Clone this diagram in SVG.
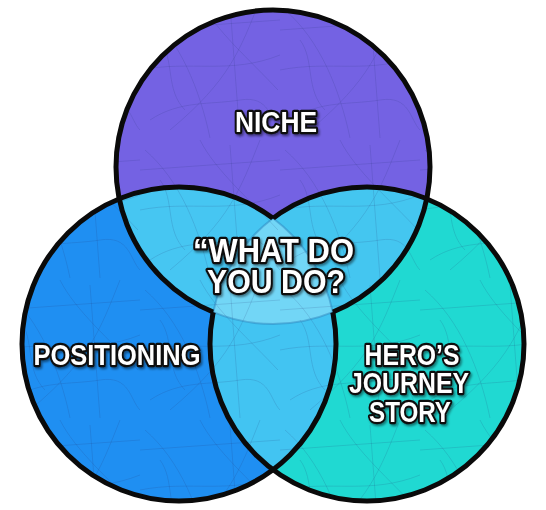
<svg xmlns="http://www.w3.org/2000/svg" width="546" height="510" viewBox="0 0 546 510">
  <style>
    .lbl { font-family: "Liberation Sans", Arial, sans-serif; font-weight: bold; fill: #ffffff; stroke: #111111; stroke-width: 4.5; stroke-linejoin: round; paint-order: stroke; text-anchor: middle; filter: url(#shadow); }
    .border { fill: none; stroke: #0a0a0a; stroke-width: 5; }
    .faint { fill: none; stroke: #2a7fb8; stroke-opacity: 0.45; stroke-width: 2; }
    .tex { fill: none; stroke: #1a2a6a; stroke-opacity: 0.16; stroke-width: 0.9; }
  </style>
  <defs>
    <clipPath id="cT"><circle cx="273" cy="167" r="157"/></clipPath>
    <clipPath id="cL"><circle cx="179" cy="344" r="157"/></clipPath>
    <clipPath id="cR"><circle cx="367" cy="344" r="157"/></clipPath>
    <clipPath id="cU">
      <circle cx="273" cy="167" r="157"/>
      <circle cx="179" cy="344" r="157"/>
      <circle cx="367" cy="344" r="157"/>
    </clipPath>
    <pattern id="scratch" width="140" height="140" patternUnits="userSpaceOnUse">
      <path class="tex" d="M5,10 C40,40 60,90 70,138"/>
      <path class="tex" d="M120,0 C100,50 90,80 30,130"/>
      <path class="tex" d="M0,70 C50,60 90,75 140,55"/>
      <path class="tex" d="M60,0 C75,30 110,60 138,90"/>
      <path class="tex" d="M10,120 C40,100 70,105 100,100 S130,120 140,130"/>
      <path class="tex" d="M90,5 L100,138"/>
      <path class="tex" d="M20,40 C35,60 25,90 45,110"/>
      <path class="tex" d="M0,30 L140,20"/>
    </pattern>
    <mask id="mT" maskUnits="userSpaceOnUse" x="0" y="0" width="546" height="510">
      <rect x="0" y="0" width="546" height="510" fill="#fff"/>
      <circle cx="367" cy="344" r="157" fill="#000" clip-path="url(#cL)"/>
    </mask>
    <mask id="mL" maskUnits="userSpaceOnUse" x="0" y="0" width="546" height="510">
      <rect x="0" y="0" width="546" height="510" fill="#fff"/>
      <circle cx="367" cy="344" r="157" fill="#000" clip-path="url(#cT)"/>
    </mask>
    <mask id="mR" maskUnits="userSpaceOnUse" x="0" y="0" width="546" height="510">
      <rect x="0" y="0" width="546" height="510" fill="#fff"/>
      <circle cx="179" cy="344" r="157" fill="#000" clip-path="url(#cT)"/>
    </mask>
    <filter id="shadow" x="-20%" y="-30%" width="140%" height="170%">
      <feDropShadow dx="1.5" dy="2" stdDeviation="1.2" flood-color="#000" flood-opacity="0.45"/>
    </filter>
  </defs>
  <rect width="546" height="510" fill="#ffffff"/>

  <g id="regions">
    <circle cx="273" cy="167" r="157" fill="#7462e3"/>
    <circle cx="179" cy="344" r="157" fill="#1f8ff2"/>
    <circle cx="367" cy="344" r="157" fill="#20d9d2"/>
    <circle cx="273" cy="167" r="157" fill="#46c6f2" clip-path="url(#cL)"/>
    <circle cx="273" cy="167" r="157" fill="#44c6f0" clip-path="url(#cR)"/>
    <circle cx="179" cy="344" r="157" fill="#42c4f2" clip-path="url(#cR)"/>
    <path d="M273,218.3 A157,157 0 0 0 213.2,312.2 A157,157 0 0 0 332.8,312.2 A157,157 0 0 0 273,218.3 Z" fill="#72d6f6"/>
    <rect x="0" y="0" width="546" height="510" fill="url(#scratch)" clip-path="url(#cU)"/>
    <path class="faint" d="M273,218.3 A157,157 0 0 0 213.2,312.2 A157,157 0 0 0 332.8,312.2 A157,157 0 0 0 273,218.3 Z"/>
    <circle class="border" cx="273" cy="167" r="157" mask="url(#mT)"/>
    <circle class="border" cx="179" cy="344" r="157" mask="url(#mL)"/>
    <circle class="border" cx="367" cy="344" r="157" mask="url(#mR)"/>
  </g>

  <g id="connectors"></g>

  <g id="niche">
    <text class="lbl" x="276" y="132" font-size="29" textLength="82" lengthAdjust="spacingAndGlyphs">NICHE</text>
  </g>
  <g id="what-do-you-do">
    <text class="lbl" x="273.5" y="262" font-size="33" textLength="161" lengthAdjust="spacingAndGlyphs">“WHAT DO</text>
    <text class="lbl" x="276" y="293" font-size="33" textLength="138" lengthAdjust="spacingAndGlyphs">YOU DO?</text>
  </g>
  <g id="positioning">
    <text class="lbl" x="117" y="365" font-size="30" textLength="167" lengthAdjust="spacingAndGlyphs">POSITIONING</text>
  </g>
  <g id="heros-journey-story">
    <text class="lbl" x="412" y="365" font-size="30" textLength="95" lengthAdjust="spacingAndGlyphs">HERO’S</text>
    <text class="lbl" x="409" y="393" font-size="30" textLength="120" lengthAdjust="spacingAndGlyphs">JOURNEY</text>
    <text class="lbl" x="410" y="422" font-size="30" textLength="82" lengthAdjust="spacingAndGlyphs">STORY</text>
  </g>
</svg>
